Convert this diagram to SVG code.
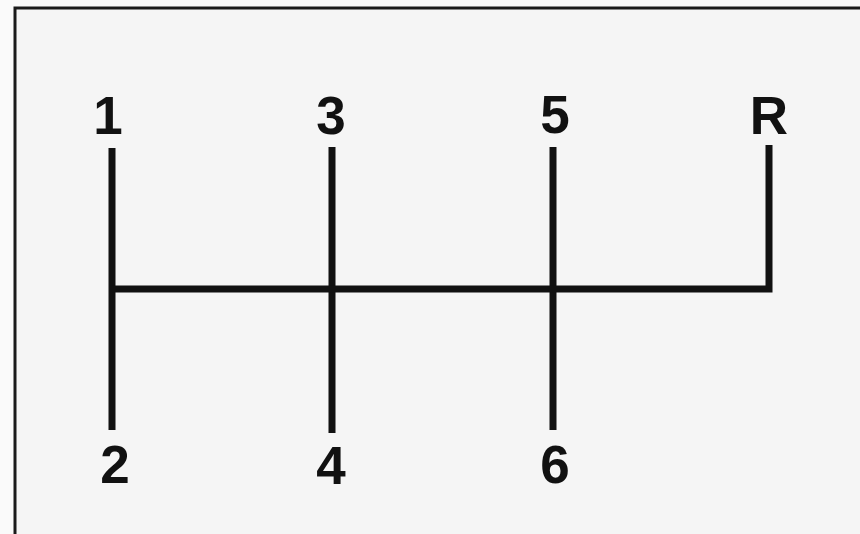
<svg xmlns="http://www.w3.org/2000/svg" width="860" height="534" viewBox="0 0 860 534">
  <style>
    .lbl { font-family: "Liberation Sans", Arial, sans-serif; font-weight: bold; font-size: 53px; fill: #111; text-anchor: middle; }
    .gate { stroke: #111; stroke-width: 7; fill: none; stroke-linecap: butt; stroke-linejoin: miter; }
  </style>
  <rect x="0" y="0" width="860" height="534" fill="#fafafa"/>
  <rect id="frame" x="15" y="8" width="900" height="600" fill="#f5f5f5" stroke="#1a1a1a" stroke-width="3"/>
  <g id="connectors">
    <path class="gate" d="M112,148 V430"/>
    <path class="gate" d="M332,147 V433"/>
    <path class="gate" d="M553,147 V430"/>
    <path class="gate" d="M112,289 H769 V145"/>
  </g>
  <g id="gear-1"><text class="lbl" x="108" y="134">1</text></g>
  <g id="gear-3"><text class="lbl" x="331" y="134">3</text></g>
  <g id="gear-5"><text class="lbl" x="555" y="133">5</text></g>
  <g id="gear-R"><text class="lbl" x="769" y="134">R</text></g>
  <g id="gear-2"><text class="lbl" x="115" y="483">2</text></g>
  <g id="gear-4"><text class="lbl" x="331" y="484">4</text></g>
  <g id="gear-6"><text class="lbl" x="555" y="483">6</text></g>
</svg>
